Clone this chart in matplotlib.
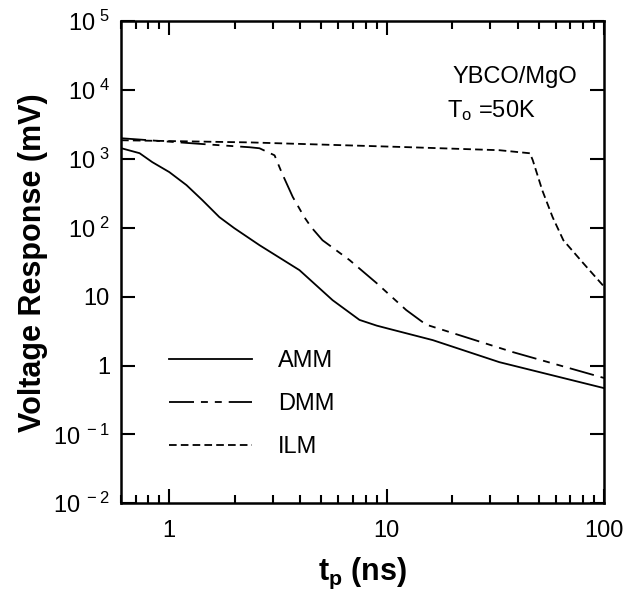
import numpy as np
import matplotlib.pyplot as plt
from matplotlib.ticker import FixedLocator, NullFormatter, LogLocator

plt.rcParams['font.family'] = 'Liberation Sans'
plt.rcParams['mathtext.fontset'] = 'custom'
plt.rcParams['mathtext.rm'] = 'Liberation Sans'
plt.rcParams['mathtext.it'] = 'Liberation Sans'
plt.rcParams['mathtext.bf'] = 'Liberation Sans:bold'
plt.rcParams['lines.scale_dashes'] = False

# values
amm_t = [0.6, 0.73, 0.835, 1.0, 1.2, 1.42, 1.7, 1.99, 2.6, 3.97, 5.64, 7.5, 9.0, 10.3, 16.3, 33, 100]
amm_v = [1435, 1213, 900, 645, 417, 252, 143, 99, 56, 24.3, 8.9, 4.6, 3.8, 3.4, 2.34, 1.12, 0.47]

dmm_t = [0.6, 1.53, 2.34, 2.6, 3.05, 3.3, 3.7, 4.18, 4.5, 5.07, 6.75, 9.0, 12.3, 14.6, 15.3, 38, 100]
dmm_v = [2000, 1620, 1480, 1430, 1130, 620, 280, 143, 102, 66, 34, 15.7, 6.4, 4.3, 3.9, 1.57, 0.66]

ilm_t = [0.6, 2.34, 12.8, 33, 45.6, 47, 52, 58, 65, 80, 100]
ilm_v = [1870, 1740, 1480, 1340, 1210, 960, 350, 143, 66, 31, 14]

ytick_vals = [1e-2, 1e-1, 1, 10, 1e2, 1e3, 1e4, 1e5]
ytick_labels = [r'$10^{\ -2}$', r'$10^{\ -1}$', '1', '10',
                r'$10^{\ 2}$', r'$10^{\ 3}$', r'$10^{\ 4}$', r'$10^{\ 5}$']
xtick_vals = [1, 10, 100]
xtick_labels = ['1', '10', '100']

fig = plt.figure(figsize=(6.24, 5.90), dpi=100)
ax = fig.add_axes([0.194, 0.147, 0.774, 0.817])

ax.plot(amm_t, amm_v, color='black', lw=1.3, label='AMM')
ax.plot(dmm_t, dmm_v, color='black', lw=1.3, dashes=(18, 5, 5, 5, 5, 5), label='DMM')
ax.plot(ilm_t, ilm_v, color='black', lw=1.3, dashes=(5.5, 3), label='ILM')

ax.set_xscale('log')
ax.set_yscale('log')
ax.set_xlim(0.6, 100)
ax.set_ylim(1e-2, 1e5)

ax.xaxis.set_major_locator(FixedLocator(xtick_vals))
ax.set_xticklabels(xtick_labels)
ax.xaxis.set_minor_locator(LogLocator(base=10, subs=np.arange(2, 10)))
ax.xaxis.set_minor_formatter(NullFormatter())
ax.yaxis.set_major_locator(FixedLocator(ytick_vals))
ax.set_yticklabels(ytick_labels)
ax.yaxis.set_minor_locator(FixedLocator([]))

ax.tick_params(which='both', direction='in', top=True, right=True,
               labelsize=17, width=1.5)
ax.tick_params(axis='x', pad=12)
ax.tick_params(axis='y', pad=8)
ax.tick_params(which='major', length=10)
ax.tick_params(which='minor', length=6)
for s in ax.spines.values():
    s.set_linewidth(1.8)

ax.set_ylabel('Voltage Response (mV)', fontsize=22, fontweight='bold', labelpad=4)
ax.set_xlabel(r'$\mathbf{t_p}$ (ns)', fontsize=22, fontweight='bold', labelpad=10)

ax.text(0.945, 0.885, 'YBCO/MgO', transform=ax.transAxes, ha='right', va='center', fontsize=17)
ax.text(0.675, 0.815, r'T$_\mathrm{o}$ =50K', transform=ax.transAxes, ha='left', va='center', fontsize=17)

ax.legend(loc='upper left', bbox_to_anchor=(0.1, 0.318), frameon=False,
          fontsize=17, handlelength=3.5, handletextpad=1.1, labelspacing=0.9,
          borderpad=0, borderaxespad=0)

fig.savefig('out.png', dpi=100)
